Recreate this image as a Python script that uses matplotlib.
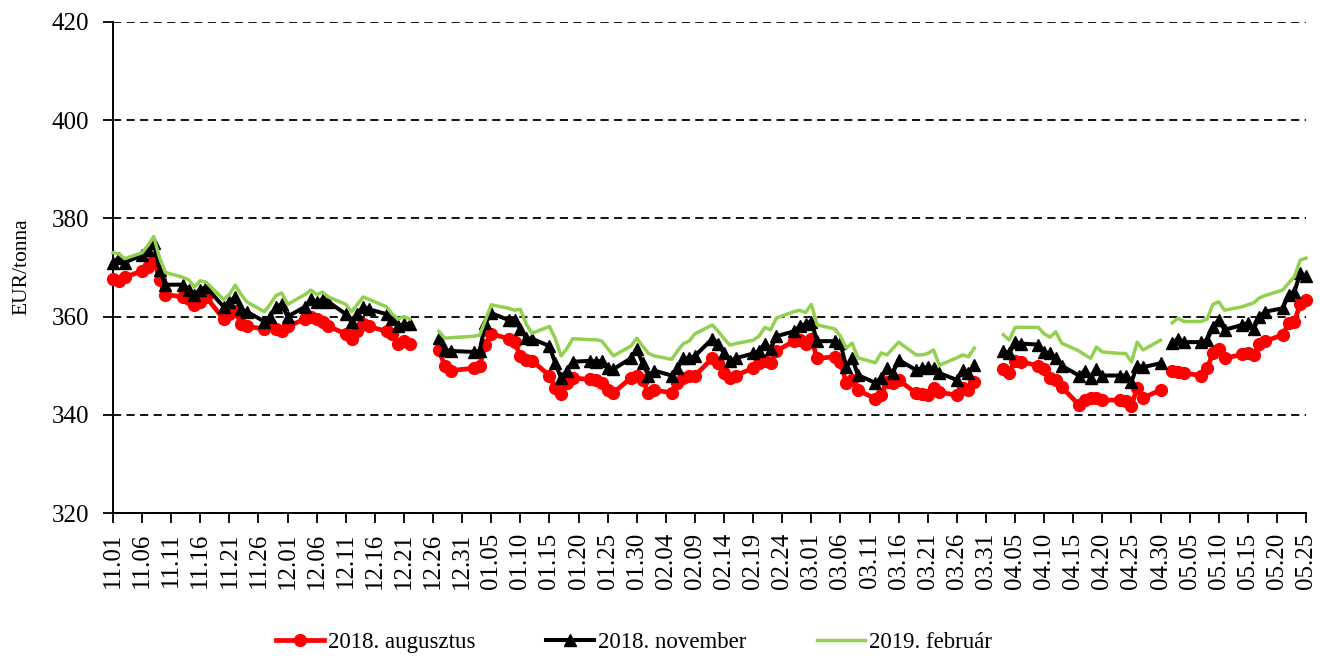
import numpy as np
import pandas as pd
import matplotlib
matplotlib.use("Agg")
import matplotlib.pyplot as plt

nan = np.nan

# Trading days (weekdays, 2017-11-01 .. 2018-05-25); Jan 1 absent, other holidays kept as gaps
start = pd.Timestamp("2017-11-01")
dates = pd.bdate_range("2017-11-01", "2018-05-25").drop(pd.Timestamp("2018-01-01"))

series_names = ["2018. augusztus", "2018. november", "2019. február"]

aug_2018 = [
    # Nov
    367.7, 367.3, 368.0, 369.3, 370.2, 372.0, 367.5, 364.5, 364.0, 363.5, 362.3,
    363.0, 364.0, 359.5, 360.5, 361.2, 358.5, 358.0, 357.5, 358.5, 357.5, 357.0,
    # Dec
    358.0, 359.5, 360.0, 359.5, 359.0, 358.0, 356.5, 355.5, 357.0, 358.5, 358.0,
    357.0, 356.5, 354.5, 355.0, 354.5, nan, nan, 353.2, 350.0, 349.0,
    # Jan
    349.5, 350.0, 354.2, 356.5, 355.5, 354.8, 352.0, 351.2, 351.0, 348.0, 345.5,
    344.2, 346.5, 347.5, 347.2, 347.0, 346.5, 345.0, 344.5, 347.5, 348.0, 347.0,
    # Feb
    344.5, 345.0, 344.5, 346.5, 347.5, 348.0, 348.0, 351.5, 350.5, 348.5, 347.5,
    348.0, 349.5, 350.5, 351.0, 350.5, 353.0, 355.0, 355.3, 354.5,
    # Mar
    355.5, 351.5, 351.8, 350.8, 346.5, 347.0, 345.0, 343.3, 344.0, 346.7, 346.5,
    347.1, 344.4, 344.2, 344.0, 345.5, 344.6, 344.0, 345.5, 345.0, 346.7, nan,
    # Apr
    nan, 349.3, 348.5, 351.0, 350.8, 350.0, 349.3, 347.5, 347.0, 345.7, 342.0,
    343.0, 343.5, 343.5, 343.0, 343.0, 342.8, 341.8, 345.5, 343.5, 345.0,
    # May
    nan, 349.0, 348.8, 348.5, 348.0, 349.5, 352.5, 353.5, 351.5, 352.3, 352.5,
    352.2, 354.5, 355.0, 356.3, 358.7, 359.0, 362.5, 363.3,
]

nov_2018 = [
    # Nov
    371.0, 372.0, 371.0, 372.5, 373.5, 375.0, 369.5, 366.5, 366.5, 365.5, 364.5,
    365.5, 366.0, 362.0, 363.0, 364.0, 361.5, 361.0, 359.0, 360.0, 362.0, 362.5,
    # Dec
    360.0, 362.0, 363.5, 363.0, 363.5, 363.0, 360.5, 359.0, 360.5, 362.0, 361.5,
    360.5, 359.5, 358.0, 358.5, 358.5, nan, nan, 355.6, 353.2, 353.0,
    # Jan
    352.8, 353.0, 358.7, 360.7, 359.3, 359.3, 357.5, 355.6, 355.5, 354.0, 350.5,
    347.5, 349.0, 350.8, 351.0, 350.8, 351.0, 349.5, 349.3, 351.5, 353.5, 350.5,
    # Feb
    348.0, 349.0, 348.0, 349.5, 351.5, 351.5, 352.0, 355.5, 354.5, 352.5, 351.0,
    351.5, 352.5, 353.0, 354.5, 353.5, 356.0, 357.0, 358.0, 358.5,
    # Mar
    359.0, 355.0, 355.0, 354.6, 349.7, 351.6, 348.1, 346.5, 347.5, 349.5, 348.5,
    351.2, 349.1, 349.5, 349.7, 349.5, 348.5, 347.1, 349.1, 348.5, 350.1, nan,
    # Apr
    nan, 353.0, 352.5, 354.8, 354.5, 354.3, 352.8, 352.5, 351.5, 350.0, 348.0,
    349.0, 347.5, 349.3, 348.0, 348.0, 348.0, 346.7, 350.0, 349.7, 350.5,
    # May
    nan, 354.6, 355.5, 354.8, 354.8, 355.2, 357.9, 359.3, 357.3, 358.3, 358.7,
    357.5, 360.0, 361.0, 361.7, 364.4, 365.0, 368.8, 368.2,
]

feb_2019 = [
    # Nov
    373.0, 372.8, 371.8, 373.0, 374.5, 376.3, 372.0, 369.0, 368.0, 367.5, 366.0,
    367.3, 367.0, 363.5, 364.5, 366.4, 364.5, 363.0, 361.0, 362.5, 364.3, 364.8,
    # Dec
    362.5, 364.5, 365.4, 364.5, 365.0, 364.0, 362.5, 361.0, 362.5, 364.0, 363.5,
    362.0, 360.5, 359.5, 360.0, 359.5, nan, nan, 357.0, 355.6, 355.7,
    # Jan
    356.0, 356.2, 359.3, 362.4, 361.7, 361.3, 361.5, 358.5, 356.6, 358.0, 355.5,
    352.0, 353.5, 355.5, 355.3, 355.3, 355.0, 353.5, 352.0, 354.0, 355.6, 354.0,
    # Feb
    352.5, 352.0, 351.3, 353.0, 354.5, 355.0, 356.5, 358.3, 357.0, 355.5, 354.2,
    354.5, 355.2, 356.0, 357.8, 357.3, 359.7, 361.0, 361.3, 360.8,
    # Mar
    362.5, 358.3, 357.5, 356.0, 353.6, 354.6, 351.6, 350.6, 352.6, 352.2, 353.5,
    354.8, 352.2, 352.2, 352.5, 353.2, 350.1, 351.6, 352.2, 351.8, 353.6, nan,
    # Apr
    nan, 356.3, 355.2, 357.8, 357.8, 357.8, 356.5, 355.8, 356.9, 354.6, 353.0,
    352.2, 351.5, 353.8, 352.8, 352.5, 352.5, 350.8, 354.8, 353.2, 355.2,
    # May
    nan, 358.7, 359.7, 359.0, 359.0, 359.5, 362.5, 363.0, 361.3, 362.0, 362.4,
    362.8, 363.8, 364.3, 365.4, 366.8, 368.1, 371.5, 371.9,
]

y_ticks = [320, 340, 360, 380, 400, 420]
y_label = "EUR/tonna"
tick_dates = pd.date_range("2017-11-01", "2018-05-25", freq="5D")
tick_labels = [d.strftime("%m.%d") for d in tick_dates]

# ---------------------------------------------------------------------------
W, H = 1320, 656
fig = plt.figure(figsize=(W / 100, H / 100), dpi=100)
ax = fig.add_axes([113 / W, 143 / H, (1306 - 113) / W, 491 / H])

x = np.asarray((dates - start).days, dtype=float)
xt = np.asarray((tick_dates - start).days, dtype=float)

serif = ["Liberation Serif", "DejaVu Serif"]
fs_tick = 18
fs_leg = 16.5

ax.plot(x, aug_2018, color="#FF0000", lw=3.4, marker="o", ms=8.5,
        mec="#FF0000", mfc="#FF0000", zorder=3, clip_on=False,
        label=series_names[0])
ax.plot(x, nov_2018, color="black", lw=2.9, marker="^", ms=8.5,
        mec="black", mfc="black", zorder=4, clip_on=False,
        label=series_names[1])
ax.plot(x, feb_2019, color="#92D050", lw=2.5, zorder=5, clip_on=False,
        label=series_names[2])

ax.set_xlim(xt[0], xt[-1])
ax.set_ylim(y_ticks[0], y_ticks[-1])
ax.set_yticks(y_ticks)
ax.set_xticks(xt)
ax.set_xticklabels(tick_labels, rotation=90, family=serif, fontsize=fs_tick)
for lab in ax.get_yticklabels():
    lab.set_family(serif)
    lab.set_fontsize(fs_tick)

ax.yaxis.grid(True, color="black", linestyle=(0, (4.5, 3.0)), lw=1.3, zorder=1)
ax.set_axisbelow(True)

for side in ("top", "right"):
    ax.spines[side].set_visible(False)
for side in ("left", "bottom"):
    ax.spines[side].set_linewidth(1.4)
    ax.spines[side].set_color("black")

ax.tick_params(axis="both", direction="out", length=7, width=1.3, color="black")
ax.tick_params(axis="y", pad=10)
ax.tick_params(axis="x", pad=7)

fig.text(22 / W, 1 - 267 / H, y_label, rotation=90, ha="center", va="center",
         family=serif, fontsize=15.5)

handles, labels = ax.get_legend_handles_labels()
fig.legend(handles, labels, loc="center", bbox_to_anchor=(634 / W, 1 - 642 / H),
           ncol=3, frameon=False, handlelength=2.1, handletextpad=0.15,
           columnspacing=3.1, prop={"family": serif, "size": fs_leg})

fig.savefig("out.png", dpi=100)
